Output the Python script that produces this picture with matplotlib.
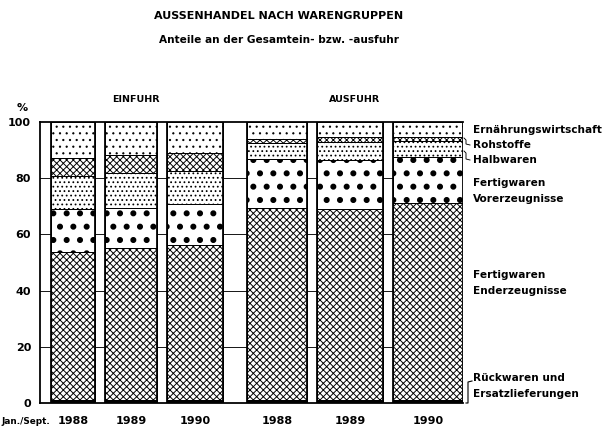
import numpy as np
import matplotlib
matplotlib.use('Agg')
import matplotlib.pyplot as plt
from matplotlib import font_manager

# --- data (percent shares) ---
years = ['1988', '1989', '1990']
groups = ['EINFUHR', 'AUSFUHR']

rueckwaren_ein = [1.2, 1.2, 1.2]
enderz_ein = [52.6, 53.9, 55.0]
vorerz_ein = [15.1, 14.2, 14.6]
halbwaren_ein = [11.9, 12.7, 11.9]
rohstoffe_ein = [6.4, 6.3, 6.4]
ernaehrung_ein = [12.8, 11.7, 10.9]

rueckwaren_aus = [1.2, 1.2, 1.2]
enderz_aus = [68.1, 67.7, 69.8]
vorerz_aus = [17.4, 17.6, 16.4]
halbwaren_aus = [5.7, 6.5, 5.9]
rohstoffe_aus = [1.4, 1.5, 1.5]
ernaehrung_aus = [6.2, 5.5, 5.2]

yticks = [0, 20, 40, 60, 80, 100]

# --- layout (pixel-like x units) ---
bar_left = [51, 105, 167, 247, 317, 393]
bar_width = [44, 52, 56, 60, 66, 70]

available = {f.name for f in font_manager.fontManager.ttflist}
fam = ['Liberation Sans Narrow', 'DejaVu Sans'] if 'Liberation Sans Narrow' in available else ['DejaVu Sans']
plt.rcParams['font.family'] = fam
plt.rcParams['hatch.linewidth'] = 1.0

DPI = 80
fig = plt.figure(figsize=(605 / DPI, 431 / DPI), dpi=DPI)
ax = fig.add_axes([40 / 605, (431 - 403) / 431, (463 - 40) / 605, (403 - 122) / 431])

# segments bottom-up: (hatch, facecolor, hatch colour, hatch lw)
seg_ein = [rueckwaren_ein, enderz_ein, vorerz_ein, halbwaren_ein, rohstoffe_ein, ernaehrung_ein]
seg_aus = [rueckwaren_aus, enderz_aus, vorerz_aus, halbwaren_aus, rohstoffe_aus, ernaehrung_aus]
styles = [
    ('', 'black', 'black', 1.0),
    ('xxxx', 'white', 'black', 0.85),
    ('.', 'white', 'black', 3.0),
    ('...', 'white', 'black', 0.9),
    ('xxxx', 'white', 'black', 0.85),
    ('..', 'white', 'black', 0.8),
]

for gi, segs in enumerate([seg_ein, seg_aus]):
    for yi in range(len(years)):
        k = gi * 3 + yi
        bottom = 0
        for vals, (hatch, fc, hc, hlw) in zip(segs, styles):
            v = vals[yi]
            b = ax.bar(bar_left[k], v, width=bar_width[k], bottom=bottom, align='edge',
                       color=fc, edgecolor=hc, linewidth=0, hatch=hatch, zorder=2)
            for p in b:
                if hasattr(p, 'set_hatch_linewidth'):
                    p.set_hatch_linewidth(hlw)
            ax.bar(bar_left[k], v, width=bar_width[k], bottom=bottom, align='edge',
                   fill=False, edgecolor='black', linewidth=0.9, zorder=3)
            bottom += v
        ax.bar(bar_left[k], bottom, width=bar_width[k], align='edge',
               fill=False, edgecolor='black', linewidth=1.6, zorder=4)

ax.set_xlim(40, 463)
ax.set_ylim(0, 100)
ax.set_yticks(yticks)
ax.set_yticklabels([str(t) for t in yticks], fontsize=10, fontweight='bold')
ax.tick_params(axis='y', length=0, pad=8)
ax.set_xticks([])
for t in yticks[1:-1]:
    ax.axhline(t, color='black', linewidth=0.8, zorder=1)
for s in ['left', 'top', 'bottom']:
    ax.spines[s].set_linewidth(1.6)
ax.spines['right'].set_visible(False)

fig.text(22 / 605, 1 - 108 / 431, '%', fontsize=10, fontweight='bold', ha='center', va='center')

# group headings and year labels
fig.text(136 / 605, 1 - 100 / 431, groups[0], fontsize=8.5, fontweight='bold', ha='center', va='center')
fig.text(355 / 605, 1 - 100 / 431, groups[1], fontsize=8.5, fontweight='bold', ha='center', va='center')
for k in range(6):
    cx = bar_left[k] + bar_width[k] / 2
    ax.text(cx, -6.5, years[k % 3], fontsize=10, fontweight='bold', ha='center', va='center')
fig.text(1 / 605, 1 - 422 / 431, 'Jan./Sept.', fontsize=8, fontweight='bold', ha='left', va='center')

# titles
fig.text(279 / 605, 1 - 16 / 431, 'AUSSENHANDEL NACH WARENGRUPPEN', fontsize=10, fontweight='bold',
         ha='center', va='center')
fig.text(279 / 605, 1 - 40 / 431, 'Anteile an der Gesamtein- bzw. -ausfuhr', fontsize=9.5,
         fontweight='bold', ha='center', va='center')

# right-hand labels
labels = [
    (130, 'Ernährungswirtschaft'),
    (145, 'Rohstoffe'),
    (160, 'Halbwaren'),
    (183, 'Fertigwaren'),
    (199, 'Vorerzeugnisse'),
    (275, 'Fertigwaren'),
    (291, 'Enderzeugnisse'),
    (378, 'Rückwaren und'),
    (394, 'Ersatzlieferungen'),
]
for py, txt in labels:
    fig.text(473 / 605, 1 - py / 431, txt, fontsize=9.5, fontweight='bold', ha='left', va='center')

# small connectors
def fig_line(xs, ys, lw=0.8):
    fig.add_artist(plt.Line2D([x / 605 for x in xs], [1 - y / 431 for y in ys],
                              color='black', linewidth=lw))

fig_line([464, 466, 466, 470], [138, 140, 144, 145])
fig_line([464, 466, 466, 470], [151, 153, 159, 160])
fig_line([466, 468, 468, 472], [403, 403, 382, 381], lw=1.0)

fig.savefig('out.png', dpi=DPI)
